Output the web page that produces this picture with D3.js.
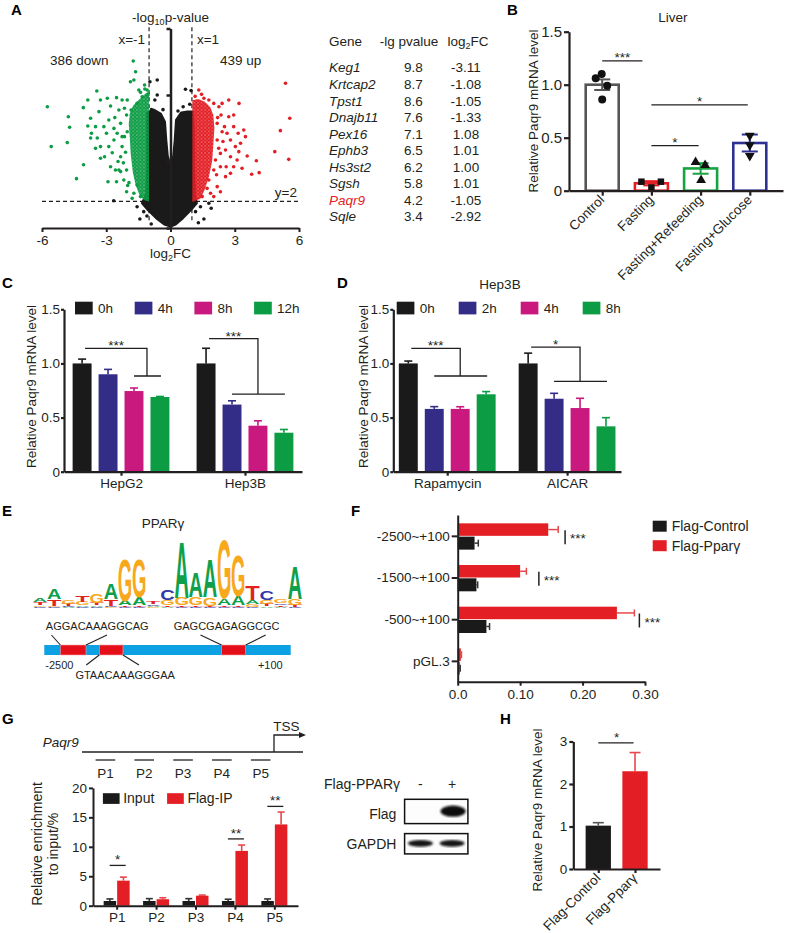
<!DOCTYPE html>
<html>
<head>
<meta charset="utf-8">
<script src="https://cdn.jsdelivr.net/npm/d3@7"></script>
<style>
  html, body { margin: 0; padding: 0; background: #fff; }
  svg { display: block; font-family: "Liberation Sans", Arial, Helvetica, sans-serif; }
</style>
</head>
<body>
<svg id="fig" width="789" height="933"></svg>
<script>
// ── Data ──────────────────────────────────────────────────────────────────────
// A: volcano, points as [log2FC, -log10 p]
const downPoints = [[-5.75,9.12],[-5.57,6.12],[-4.77,8.37],[-4.71,7.57],[-4.82,6.42],[-4.39,3.71],[-4.06,4.76],[-4.07,9.05],
  [-3.86,9.62],[-3.44,10.3],[-3.27,9.62],[-3.73,8.25],[-3.86,7.67],[-3.69,7.12],[-3.50,7.62],[-3.42,6.77],[-3.73,6.77],
  [-2.92,3.48],[-2.80,4.61],[-2.57,4.36],[-2.72,5.66],[-2.88,6.12],[-2.99,7.12],[-3.11,7.62],[-2.88,8.12],[-2.80,9.17],
  [-2.52,9.80],[-2.41,8.87],[-1.74,12.56],[-1.63,11.75],[-1.87,11.0],[-1.71,11.13],[-1.21,10.75],[-2.02,9.62],[-2.33,7.87],
  [-2.15,6.87],[-2.33,5.36],[-2.05,4.36],[-1.94,3.41],[-1.71,2.61],[-1.56,3.23],[-1.40,2.36],[-2.49,7.12],[-3.34,8.75],
  [-2.64,6.62],[-3.08,5.36],[-3.27,6.12],[-2.26,6.12],[-2.41,4.36],[-2.18,3.61],[-1.48,10.38],[-1.32,9.87],[-1.56,9.37],
  [-1.84,8.87],[-2.05,8.50],[-1.09,10.38],[-2.95,9.75],[-2.26,9.62],[-3.27,5.24],[-3.50,5.99],[-2.52,3.48],[-2.33,4.24],
  [-2.05,2.73],[-1.79,2.23],[-2.02,7.24],[-2.26,6.87],[-2.64,7.49],[-1.2,10.45],[-1.4,10.2],[-1.05,10.0],
  [-2.1,5.7],[-2.2,4.9],[-2.0,3.2],[-2.45,5.0],[-2.6,8.3],[-2.15,9.0]]
const upPoints = [[5.37,10.88],[5.57,8.25],[5.13,7.32],[4.87,5.74],[5.52,5.16],[4.01,5.06],[4.14,4.16],[3.79,4.04],
  [3.58,5.41],[3.50,6.87],[3.20,9.37],[3.16,7.12],[2.95,7.62],[2.72,8.37],[2.80,6.62],[2.57,5.86],[2.80,5.36],[2.33,4.61],
  [2.57,3.86],[2.18,3.11],[2.02,2.36],[1.32,10.38],[1.56,9.75],[1.79,9.62],[2.02,9.37],[2.26,9.12],[2.36,8.50],[2.18,7.87],
  [2.41,7.24],[2.18,6.62],[3.03,6.12],[3.11,5.11],[2.33,5.61],[2.10,5.11],[2.02,4.36],[1.79,3.61],[1.71,2.98],[1.48,2.36],
  [2.64,7.12],[3.42,7.37],[3.27,6.37],[1.87,2.61],[2.33,2.73],[2.80,4.11],[2.95,4.61],[3.19,5.74],[3.34,4.49],[2.52,7.62],
  [2.95,8.50],[2.72,9.62],[2.41,9.37],[1.15,9.9],[1.45,10.05],[2.25,6.0],[2.15,4.0],[2.45,6.5],[2.6,4.6],[2.2,8.3]]
const nsPoints = [[-0.62,11.13],[-0.96,11.0],[-0.62,10.0],[-0.73,9.62],[0.70,10.43],[0.96,10.33],[0.59,9.12],[0.81,8.62],
  [-0.89,8.9],[0.9,9.3],[-1.56,1.60],[-1.43,0.68],[-1.25,1.23],[1.40,1.60],[1.79,1.86],[1.90,1.48],[1.56,0.68],[-2.65,2.05],
  [1.17,1.23],[-1.1,0.9],[1.3,0.4],[-0.9,0.3],[-0.35,8.9],[0.35,8.8]]
// outlines of the dense, fully overplotted clouds
const nsCloud = [[-1.07,8.65],[-0.79,8.87],[-0.47,8.57],[-0.28,7.97],[-0.22,6.6],[-0.15,5.4],[0,4.6],[0.15,5.4],[0.22,6.6],
  [0.28,8.12],[0.51,8.65],[0.79,8.72],[1.03,8.72],[1.07,7.37],[1.07,4.36],[1.12,2.48],[1.21,1.88],[0.93,1.35],[0.56,0.75],
  [0.23,0.30],[0,0.15],[-0.28,0.30],[-0.65,0.75],[-1.03,1.35],[-1.31,1.88],[-1.12,2.48],[-1.07,4.36],[-1.07,7.37]]
const downCloud = [[-1.01,10.3],[-1.25,10.0],[-1.5,9.6],[-1.75,9.2],[-1.9,8.6],[-1.95,7.8],[-1.9,6.8],[-1.86,5.6],
  [-1.76,4.2],[-1.62,3.2],[-1.45,2.5],[-1.25,2.1],[-1.0,2.0]]
const upCloud = [[1.02,9.6],[1.3,9.7],[1.6,9.5],[1.85,9.1],[2.0,8.5],[2.05,7.5],[2.0,6.3],[1.95,5.1],[1.8,3.9],[1.6,2.9],
  [1.4,2.2],[1.02,1.95]]
const downCount = 386
const upCount = 439
const topGenes = ['Keg1','Krtcap2','Tpst1','Dnajb11','Pex16','Ephb3','Hs3st2','Sgsh','Paqr9','Sqle']
const topLgP = [9.8, 8.7, 8.6, 7.6, 7.1, 6.5, 6.2, 5.8, 4.2, 3.4]
const topLog2FC = [-3.11, -1.08, -1.05, -1.33, 1.08, 1.01, 1.00, 1.01, -1.05, -2.92]
const highlightGene = 'Paqr9'

// B: liver
const liverGroups = ['Control','Fasting','Fasting+Refeeding','Fasting+Glucose']
const liverMean = [1.0, 0.07, 0.21, 0.45]
const liverSem = [0.05, 0.02, 0.05, 0.08]
const liverPoints = [[1.06, 1.10, 0.99, 0.86], [0.085, 0.03, 0.085], [0.27, 0.24, 0.10], [0.52, 0.43, 0.33]]
const liverSig = [['Control','Fasting',1.225,'***'], ['Fasting','Fasting+Glucose',0.81,'*'], ['Fasting','Fasting+Refeeding',0.425,'*']]

// C: fasting-mimic time course
const cellLines = ['HepG2','Hep3B']
const fastTimes = ['0h','4h','8h','12h']
const fastMean = [[1.0, 0.90, 0.745, 0.69], [1.0, 0.62, 0.425, 0.36]]
const fastErr = [[0.04, 0.045, 0.028, 0.005], [0.14, 0.035, 0.045, 0.03]]
// [group, bars under the lower arm (first,last), top, lower, label]
const fastSig = [['HepG2', 2, 3, 1.14, 0.884, '***'], ['Hep3B', 1, 3, 1.23, 0.717, '***']]

// D: Hep3B drugs
const drugs = ['Rapamycin','AICAR']
const drugTimes = ['0h','2h','4h','8h']
const drugMean = [[1.0, 0.58, 0.58, 0.715], [1.0, 0.674, 0.588, 0.419]]
const drugErr = [[0.022, 0.021, 0.02, 0.025], [0.095, 0.05, 0.09, 0.08]]
const drugSig = [['Rapamycin', 1, 3, 1.14, 0.884, '***'], ['AICAR', 1, 3, 1.15, 0.835, '*']]

// E: PPARγ motif (bits, bottom to top) and promoter sites
const logoColumns = [
  [['C',0.04],['G',0.05],['T',0.08],['A',0.13]],
  [['C',0.03],['G',0.04],['T',0.20],['A',0.32]],
  [['A',0.03],['C',0.03],['T',0.07],['G',0.12]],
  [['C',0.03],['A',0.05],['G',0.10],['T',0.20]],
  [['C',0.03],['A',0.05],['T',0.08],['G',0.26]],
  [['G',0.04],['C',0.03],['T',0.20],['A',0.48]],
  [['C',0.03],['T',0.05],['A',0.14],['G',1.25]],
  [['C',0.03],['T',0.05],['A',0.25],['G',1.14]],
  [['G',0.03],['A',0.04],['C',0.04],['T',0.06]],
  [['A',0.04],['T',0.05],['G',0.15],['C',0.30]],
  [['C',0.03],['T',0.05],['G',0.22],['A',1.70]],
  [['C',0.03],['T',0.05],['G',0.25],['A',0.75]],
  [['C',0.03],['T',0.04],['G',0.25],['A',1.13]],
  [['C',0.03],['T',0.05],['A',0.20],['G',1.78]],
  [['C',0.03],['T',0.05],['A',0.27],['G',1.22]],
  [['C',0.04],['G',0.08],['A',0.13],['T',0.44]],
  [['A',0.05],['T',0.06],['G',0.12],['C',0.26]],
  [['A',0.04],['T',0.05],['C',0.05],['G',0.10]],
  [['C',0.03],['T',0.06],['G',0.18],['A',0.96]]
]
const siteSeqs = ['AGGACAAAGGCAG','GTAACAAAGGGAA','GAGCGAGAGGCGC']
const siteStart = [-2330, -1920, -630]
const siteEnd = [-2060, -1670, -375]

// F: luciferase
const constructs = ['-2500~+100','-1500~+100','-500~+100','pGL.3']
const lucControl = [0.027, 0.030, 0.046, 0.003]
const lucControlErr = [0.006, 0.002, 0.005, 0.001]
const lucPparg = [0.145, 0.100, 0.255, 0.005]
const lucPpargErr = [0.016, 0.010, 0.028, 0.001]
const lucSigX = [0.172, 0.130, 0.291]

// G: ChIP-qPCR
const primers = ['P1','P2','P3','P4','P5']
const chipInput = [0.8, 0.8, 0.8, 0.8, 0.8]
const chipInputErr = [0.35, 0.4, 0.4, 0.3, 0.35]
const chipIP = [4.25, 1.1, 1.7, 9.3, 13.8]
const chipIPErr = [0.6, 0.25, 0.1, 1.0, 2.1]
const chipSig = [['P1', 6.84, '*'], ['P4', 11.34, '**'], ['P5', 16.86, '**']]
const blotLanes = ['-', '+']
const flagBand = [0, 1]
const gapdhBand = [1, 1]

// H: overexpression
const ohGroups = ['Flag-Control','Flag-Pparγ']
const ohMean = [1.02, 2.3]
const ohErr = [0.07, 0.44]

// ── Setup ─────────────────────────────────────────────────────────────────────
const svg = d3.select('#fig')
svg.append('rect').attr('width', 789).attr('height', 933).attr('fill', '#fff')
const defs = svg.append('defs')
const INK = '#231f20'
const BLACK = '#1b1a1a', NAVY = '#332d88', MAGENTA = '#c9197f', GREEN = '#0c9c44', RED = '#e31e24'
const FS = 13.5

const text = (g, x, y, s, fs = FS) => g.append('text').attr('x', x).attr('y', y).attr('font-size', fs).attr('fill', INK).text(s)

function styleAxis(g, fs = FS, sw = 2) {
  g.attr('font-family', null).attr('font-size', fs)
  g.select('.domain').attr('stroke', INK).attr('stroke-width', sw)
  g.selectAll('.tick line').attr('stroke', INK).attr('stroke-width', sw)
  g.selectAll('.tick text').attr('fill', INK)
  return g
}
const fmt1 = d => d === 0 ? '0' : d.toFixed(1)

function line(g, x1, y1, x2, y2, color = INK, w = 1.4) {
  return g.append('line').attr('x1', x1).attr('y1', y1).attr('x2', x2).attr('y2', y2)
    .attr('stroke', color).attr('stroke-width', w)
}
function errUp(g, x, y0, y1, cap, color) {
  line(g, x, y0, x, y1, color, 1.6)
  line(g, x - cap / 2, y1, x + cap / 2, y1, color, 1.6)
}
function yLabel(g, x, y, s, fs = FS) {
  g.append('text').attr('transform', `translate(${x},${y}) rotate(-90)`).attr('text-anchor', 'middle')
    .attr('font-size', fs).attr('fill', INK).text(s)
}
function slantLabels(g, scale, y0, fs = FS) {
  g.selectAll(null).data(scale.domain()).join('text')
    .attr('transform', d => `translate(${scale(d) + 3},${y0 + 10}) rotate(-45)`)
    .attr('text-anchor', 'end').attr('font-size', fs).attr('fill', INK).text(d => d)
}
function panelLabel(s, x, y) {
  svg.append('text').attr('x', x).attr('y', y).attr('font-size', 15).attr('font-weight', 'bold').attr('fill', '#000').text(s)
}

// ── A: volcano + table ────────────────────────────────────────────────────────
{
  const g = svg.append('g')
  const x = d3.scaleLinear().domain([-6, 6]).range([42, 299])
  const y = d3.scaleLinear().domain([0, 15]).range([228, 28.5])

  // speckled fill for the overplotted coloured clouds
  ;[['dotsGreen', GREEN], ['dotsRed', RED]].forEach(([id, c]) => {
    const p = defs.append('pattern').attr('id', id).attr('patternUnits', 'userSpaceOnUse').attr('width', 3.6).attr('height', 3.6)
    p.append('circle').attr('cx', 1.8).attr('cy', 1.8).attr('r', 1.7).attr('fill', c)
    p.append('circle').attr('cx', 0).attr('cy', 0).attr('r', 1.2).attr('fill', c)
    p.append('circle').attr('cx', 3.6).attr('cy', 3.6).attr('r', 1.2).attr('fill', c)
    p.append('circle').attr('cx', 3.6).attr('cy', 0).attr('r', 1.2).attr('fill', c)
    p.append('circle').attr('cx', 0).attr('cy', 3.6).attr('r', 1.2).attr('fill', c)
  })

  line(g, x(-6), y(2), x(6), y(2), INK, 1.2).attr('stroke-dasharray', '4,3')
  ;[-1, 1].forEach(v => line(g, x(v), y(15.1), x(v), y(0.5), INK, 1.2).attr('stroke-dasharray', '4,3'))

  const cloud = d3.line().x(d => x(d[0])).y(d => y(d[1])).curve(d3.curveLinearClosed)
  g.append('path').attr('d', cloud(nsCloud)).attr('fill', BLACK).attr('stroke', BLACK)
    .attr('stroke-width', 3).attr('stroke-linejoin', 'round')
  ;[[downCloud, 'url(#dotsGreen)'], [upCloud, 'url(#dotsRed)']].forEach(([pts, f]) => {
    g.append('path').attr('d', cloud(pts)).attr('fill', f)
  })
  ;[[nsPoints, BLACK], [downPoints, GREEN], [upPoints, RED]].forEach(([pts, c]) => {
    g.selectAll(null).data(pts).join('circle')
      .attr('cx', d => x(d[0])).attr('cy', d => y(d[1])).attr('r', 1.8).attr('fill', c)
  })

  styleAxis(g.append('g').attr('transform', `translate(${x(0)},0)`)
    .call(d3.axisLeft(y).tickValues([0, 5, 10, 15]).tickSize(4).tickSizeOuter(0).tickFormat('')), FS, 2.5)
  styleAxis(g.append('g').attr('transform', `translate(0,${y(0)})`)
    .call(d3.axisBottom(x).tickValues([-6, -3, 0, 3, 6]).tickSize(4).tickSizeOuter(0).tickPadding(3).tickFormat(d => String(d))), FS, 2)

  const t1 = g.append('text').attr('x', x(0)).attr('y', 22).attr('text-anchor', 'middle').attr('font-size', FS).attr('fill', INK)
  t1.append('tspan').text('-log')
  t1.append('tspan').attr('font-size', 9).attr('dy', 3).text('10')
  t1.append('tspan').attr('dy', -3).text('p-value')
  const t2 = g.append('text').attr('x', x(0)).attr('y', 258).attr('text-anchor', 'middle').attr('font-size', FS).attr('fill', INK)
  t2.append('tspan').text('log')
  t2.append('tspan').attr('font-size', 9).attr('dy', 3).text('2')
  t2.append('tspan').attr('dy', -3).text('FC')

  text(g, x(-1) - 4, 43.5, 'x=-1').attr('text-anchor', 'end')
  text(g, x(1) + 5, 43.5, 'x=1')
  text(g, 50, 65, `${downCount} down`)
  text(g, 220, 65, `${upCount} up`)
  text(g, x(6) - 2, y(2) - 4, 'y=2').attr('text-anchor', 'end')

  // table of top genes
  const rows = d3.scaleBand().domain(topGenes).range([59.4, 59.4 + 16.54 * topGenes.length])
  const base = d => rows(d) + rows.bandwidth() / 2 + 4.8
  text(g, 329, 45.5, 'Gene')
  text(g, 409, 45.5, '-lg pvalue').attr('text-anchor', 'middle')
  const h3 = text(g, 468, 45.5, 'log').attr('text-anchor', 'middle')
  h3.append('tspan').attr('font-size', 9).attr('dy', 3).text('2')
  h3.append('tspan').attr('dy', -3).text('FC')
  topGenes.forEach((gene, i) => {
    text(g, 329, base(gene), gene).attr('font-style', 'italic').attr('fill', gene === highlightGene ? RED : INK)
    text(g, 413.5, base(gene), topLgP[i].toFixed(1)).attr('text-anchor', 'middle')
    text(g, 466, base(gene), topLog2FC[i].toFixed(2)).attr('text-anchor', 'middle')
  })
}

// ── B: liver ──────────────────────────────────────────────────────────────────
{
  const g = svg.append('g')
  const x = d3.scalePoint().domain(liverGroups).range([569, 783]).padding(0.675)
  const y = d3.scaleLinear().domain([0, 1.5]).range([190.7, 31.7])
  const colors = ['#555555', RED, '#16a340', '#2e3192']
  const shapes = [d3.symbolCircle, d3.symbolSquare, d3.symbolTriangle, d3.symbolTriangle]
  const jitter = [[-6.5, -0.5, 5, 0], [-10, 0, 9.5], [-5, 4.5, 0.5], [0, 0, 0]]
  const bw = 33

  liverGroups.forEach((grp, i) => {
    const cx = x(grp), c = colors[i]
    g.append('rect').attr('x', cx - bw / 2).attr('y', y(liverMean[i])).attr('width', bw)
      .attr('height', y(0) - y(liverMean[i])).attr('fill', '#fff').attr('stroke', c).attr('stroke-width', 2.6)
    line(g, cx, y(liverMean[i] - liverSem[i]), cx, y(liverMean[i] + liverSem[i]), c, 2)
    ;[liverMean[i] - liverSem[i], liverMean[i] + liverSem[i]].forEach(v => line(g, cx - 8, y(v), cx + 8, y(v), c, 2))
    liverPoints[i].forEach((v, j) => {
      const rot = i === 3 ? 180 : 0
      g.append('path').attr('d', d3.symbol(shapes[i], i === 0 ? 50 : 42)())
        .attr('transform', `translate(${cx + jitter[i][j]},${y(v)}) rotate(${rot})`).attr('fill', '#111')
    })
  })

  styleAxis(g.append('g').attr('transform', `translate(${x.range()[0]},0)`)
    .call(d3.axisLeft(y).tickValues([0, 0.5, 1, 1.5]).tickSize(5).tickSizeOuter(0).tickPadding(2).tickFormat(fmt1)), 15, 2.2)
  styleAxis(g.append('g').attr('transform', `translate(0,${y(0)})`)
    .call(d3.axisBottom(x).tickSize(5).tickSizeOuter(0).tickFormat('')), FS, 2.2)
  slantLabels(g, x, y(0))
  yLabel(g, 537.5, 111, 'Relative Paqr9 mRNA level')
  text(g, 673, 22, 'Liver').attr('text-anchor', 'middle')

  liverSig.forEach(([a, b, v, lab]) => {
    const x1 = x(a), x2 = a === 'Control' ? x(b) - 9 : x(b) - 2
    line(g, x1, y(v), x2, y(v), INK, 1.3)
    text(g, (x1 + x2) / 2, y(v) + 1, lab).attr('text-anchor', 'middle')
  })
}

// ── C & D: grouped bars ───────────────────────────────────────────────────────
const timeColors = [BLACK, NAVY, MAGENTA, GREEN]
function groupedBars({ groups, times, mean, err, sig, xRange, pad, legendX, legendStep, labelX }) {
  const g = svg.append('g')
  const x = d3.scalePoint().domain(groups).range(xRange).padding(pad)
  const y = d3.scaleLinear().domain([0, 1.5]).range([471.7, 309.3])
  const inner = d3.scaleBand().domain(times).range([-48.4, 48.4]).paddingInner(0.27)
  const bw = inner.bandwidth()
  const barX = (grp, k) => x(grp) + inner(times[k]) + bw / 2

  groups.forEach((grp, i) => {
    times.forEach((t, k) => {
      const cx = barX(grp, k)
      g.append('rect').attr('x', cx - bw / 2).attr('y', y(mean[i][k])).attr('width', bw)
        .attr('height', y(0) - y(mean[i][k])).attr('fill', timeColors[k])
      errUp(g, cx, y(mean[i][k]), y(mean[i][k] + err[i][k]), 8, timeColors[k])
    })
  })
  sig.forEach(([grp, k1, k2, top, low, lab]) => {
    const xs = barX(grp, 0) + 3, xm = (barX(grp, k1) + barX(grp, k2)) / 2
    const xl = barX(grp, k1), xr = barX(grp, k2) + 1
    g.append('path').attr('d', `M${xs},${y(top)}H${xm}V${y(low)}M${xl},${y(low)}H${xr}`)
      .attr('fill', 'none').attr('stroke', INK).attr('stroke-width', 1.3)
    text(g, (xs + xm) / 2, y(top) + 2, lab).attr('text-anchor', 'middle')
  })

  styleAxis(g.append('g').attr('transform', `translate(${xRange[0]},0)`)
    .call(d3.axisLeft(y).tickValues([0, 0.5, 1, 1.5]).tickSize(3).tickSizeOuter(0).tickPadding(1).tickFormat(fmt1)), FS, 2.2)
  styleAxis(g.append('g').attr('transform', `translate(0,${y(0)})`)
    .call(d3.axisBottom(x).tickSize(4).tickSizeOuter(0).tickPadding(3)), FS, 2.2)
  yLabel(g, labelX, 386.5, 'Relative Paqr9 mRNA level')

  times.forEach((t, k) => {
    const lx = legendX + k * legendStep
    g.append('rect').attr('x', lx).attr('y', 301.7).attr('width', 17.7).attr('height', 12.7).attr('fill', timeColors[k])
    text(g, lx + 23, 312.8, t)
  })
  return g
}
groupedBars({ groups: cellLines, times: fastTimes, mean: fastMean, err: fastErr, sig: fastSig,
  xRange: [64, 302], pad: 0.46, legendX: 75, legendStep: 59.7, labelX: 36 })
const gD = groupedBars({ groups: drugs, times: drugTimes, mean: drugMean, err: drugErr, sig: drugSig,
  xRange: [393.3, 621], pad: 0.45, legendX: 396.7, legendStep: 62, labelX: 367.5 })
text(gD, 500, 289, 'Hep3B').attr('text-anchor', 'middle')

// ── E: motif logo + promoter map ──────────────────────────────────────────────
{
  const g = svg.append('g')
  const baseColor = { A: '#0fa04b', C: '#3238a8', G: '#f7a81b', T: '#e2231c' }
  const lx = d3.scaleBand().domain(d3.range(logoColumns.length)).range([33, 302])
  const ly = d3.scaleLinear().domain([0, 2]).range([608, 540])
  logoColumns.forEach((col, i) => {
    let acc = 0
    col.forEach(([b, bits]) => {
      const t = g.append('text').text(b).attr('font-size', 100).attr('font-weight', 'bold')
        .attr('text-anchor', 'middle').attr('fill', baseColor[b])
      const w = t.node().getComputedTextLength()
      const h = ly(acc) - ly(acc + bits)
      const sx = lx.bandwidth() * 1.02 / w, sy = h / 72
      t.attr('transform', `translate(${lx(i) + lx.bandwidth() / 2},${ly(acc)}) scale(${sx},${sy})`)
      acc += bits
    })
  })
  text(g, 163, 528, 'PPARγ').attr('text-anchor', 'middle')

  const px = d3.scaleLinear().domain([-2500, 100]).range([44.3, 290.7])
  g.append('rect').attr('x', px(-2500)).attr('y', 645).attr('width', px(100) - px(-2500)).attr('height', 10).attr('fill', '#0ba1e2')
  const labelDx = [24, 14, -7], leftDx = [-9, -13, -21], rightDx = [21, 16, 20], below = [false, true, false]
  siteSeqs.forEach((seq, i) => {
    const x0 = px(siteStart[i]), x1 = px(siteEnd[i])
    g.append('rect').attr('x', x0).attr('y', 645).attr('width', x1 - x0).attr('height', 10)
      .attr('fill', '#e50f1a').attr('stroke', '#f3a3a6').attr('stroke-width', 0.6)
    const yb = below[i] ? 655 : 645, yl = below[i] ? 665 : 635
    line(g, x0 + leftDx[i], yl, x0, yb, INK, 1.1)
    line(g, x1 + rightDx[i], yl, x1, yb, INK, 1.1)
    text(g, (x0 + x1) / 2 + labelDx[i], below[i] ? 679 : 630, seq, 11).attr('text-anchor', 'middle')
  })
  text(g, px(-2500) + 1, 669, '-2500', 11)
  text(g, px(100) - 8, 669, '+100', 11).attr('text-anchor', 'end')
}

// ── F: luciferase ─────────────────────────────────────────────────────────────
{
  const g = svg.append('g')
  const x = d3.scaleLinear().domain([0, 0.3]).range([457.7, 645])
  const y = d3.scalePoint().domain(constructs).range([515, 681.7]).padding(0.5)
  constructs.forEach((c, i) => {
    const cy = y(c)
    g.append('rect').attr('x', x(0)).attr('y', cy - 12.5).attr('width', x(lucPparg[i]) - x(0)).attr('height', 12.5).attr('fill', RED)
    g.append('rect').attr('x', x(0)).attr('y', cy + 0.8).attr('width', x(lucControl[i]) - x(0)).attr('height', 13).attr('fill', BLACK)
    const e1 = cy - 6.25, e2 = cy + 7.3
    line(g, x(lucPparg[i]), e1, x(lucPparg[i] + lucPpargErr[i]), e1, '#e8474b', 1.5)
    line(g, x(lucPparg[i] + lucPpargErr[i]), e1 - 3.5, x(lucPparg[i] + lucPpargErr[i]), e1 + 3.5, '#e8474b', 1.5)
    line(g, x(lucControl[i]), e2, x(lucControl[i] + lucControlErr[i]), e2, '#333', 1.5)
    line(g, x(lucControl[i] + lucControlErr[i]), e2 - 3.5, x(lucControl[i] + lucControlErr[i]), e2 + 3.5, '#333', 1.5)
    if (i < lucSigX.length) {
      line(g, x(lucSigX[i]), cy - 5.7, x(lucSigX[i]), cy + 8.3, INK, 1.5)
      text(g, x(lucSigX[i]) + 5, cy + 7.5, '***')
    }
  })
  styleAxis(g.append('g').attr('transform', `translate(${x(0)},0)`)
    .call(d3.axisLeft(y).tickSize(6).tickSizeOuter(0).tickPadding(2)), FS, 2)
  styleAxis(g.append('g').attr('transform', `translate(0,${y.range()[1]})`)
    .call(d3.axisBottom(x).tickValues([0, 0.1, 0.2, 0.3]).tickSize(4).tickSizeOuter(0).tickPadding(4)
      .tickFormat(d => d === 0 ? '0.0' : d.toFixed(2))), FS, 2)
  ;[['Flag-Control', BLACK], ['Flag-Pparγ', RED]].forEach(([s, c], k) => {
    g.append('rect').attr('x', 652.7).attr('y', 520.7 + k * 19.5).attr('width', 14).attr('height', 11).attr('fill', c)
    text(g, 671.7, 531 + k * 19.5, s, 14)
  })
}

// ── G: ChIP-qPCR + blot ───────────────────────────────────────────────────────
{
  const g = svg.append('g')
  // gene schematic
  text(g, 42.7, 746.5, 'Paqr9').attr('font-style', 'italic')
  line(g, 82, 752, 303, 752, INK, 1.3)
  g.append('path').attr('d', 'M274,752V735H300').attr('fill', 'none').attr('stroke', INK).attr('stroke-width', 1.3)
  g.append('path').attr('d', 'M306,735L299,732V738Z').attr('fill', INK)
  text(g, 286.5, 731, 'TSS').attr('text-anchor', 'middle')
  const gp = d3.scalePoint().domain(primers).range([105.4, 260.7])
  primers.forEach(p => {
    line(g, gp(p) - 9.8, 760, gp(p) + 9.8, 760, INK, 1.3)
    text(g, gp(p), 777.5, p).attr('text-anchor', 'middle')
  })

  const x = d3.scalePoint().domain(primers).range([93, 298]).padding(0.6)
  const y = d3.scaleLinear().domain([0, 20]).range([905.7, 787.9])
  const bw = 12.5
  primers.forEach((p, i) => {
    const xi = x(p) - bw - 0.5, xr = x(p) + 0.5
    g.append('rect').attr('x', xi).attr('y', y(chipInput[i])).attr('width', bw).attr('height', y(0) - y(chipInput[i])).attr('fill', BLACK)
    errUp(g, xi + bw / 2, y(chipInput[i]), y(chipInput[i] + chipInputErr[i]), 7, '#333')
    g.append('rect').attr('x', xr).attr('y', y(chipIP[i])).attr('width', bw).attr('height', y(0) - y(chipIP[i])).attr('fill', RED)
    errUp(g, xr + bw / 2, y(chipIP[i]), y(chipIP[i] + chipIPErr[i]), 7, '#e8474b')
  })
  chipSig.forEach(([p, v, lab]) => {
    line(g, x(p) - 7, y(v), x(p) + 9, y(v), INK, 1.3)
    text(g, x(p) + 1, y(v) - 1, lab).attr('text-anchor', 'middle')
  })
  styleAxis(g.append('g').attr('transform', `translate(${x.range()[0]},0)`)
    .call(d3.axisLeft(y).tickValues([0, 5, 10, 15, 20]).tickSize(4).tickSizeOuter(0).tickPadding(2).tickFormat(d3.format('d'))), FS, 2)
  styleAxis(g.append('g').attr('transform', `translate(0,${y(0)})`)
    .call(d3.axisBottom(x).tickSize(4).tickSizeOuter(0).tickPadding(3)), FS, 2)
  yLabel(g, 42, 844, 'Relative enrichment', 14)
  yLabel(g, 57.5, 844, 'to input/%', 14)
  ;[['Input', BLACK, 102.9], ['Flag-IP', RED, 167.1]].forEach(([s, c, lx]) => {
    g.append('rect').attr('x', lx).attr('y', 793.2).attr('width', 16.7).attr('height', 10.7).attr('fill', c)
    text(g, lx + 20.3, 803, s, 14)
  })

  // western blot
  defs.append('filter').attr('id', 'blur').append('feGaussianBlur').attr('stdDeviation', 0.9)
  const lane = d3.scalePoint().domain(blotLanes).range([404.6, 467.9]).padding(0.5)
  text(g, 400, 788.5, 'Flag-PPARγ', 14).attr('text-anchor', 'end')
  blotLanes.forEach(l => text(g, lane(l), 788.5, l, 14).attr('text-anchor', 'middle'))
  g.append('rect').attr('x', 404.6).attr('y', 799.3).attr('width', 63.3).attr('height', 24.3).attr('fill', '#fdfdfd').attr('stroke', '#111').attr('stroke-width', 1.5)
  g.append('rect').attr('x', 404.6).attr('y', 833.6).attr('width', 63.3).attr('height', 20.3).attr('fill', '#fdfdfd').attr('stroke', '#111').attr('stroke-width', 1.5)
  blotLanes.forEach((l, i) => {
    g.append('ellipse').attr('cx', lane(l) + 1).attr('cy', 811.2).attr('rx', 12.5).attr('ry', 5.6)
      .attr('fill', '#0d0d0d').attr('opacity', flagBand[i]).attr('filter', 'url(#blur)')
    g.append('ellipse').attr('cx', lane(l)).attr('cy', 843.3).attr('rx', 12.5).attr('ry', 3.4)
      .attr('fill', '#151515').attr('opacity', gapdhBand[i]).attr('filter', 'url(#blur)')
  })
  text(g, 396.4, 818.7, 'Flag', 14).attr('text-anchor', 'end')
  text(g, 396.4, 849.2, 'GAPDH', 14).attr('text-anchor', 'end')
}

// ── H: overexpression ────────────────────────────────────────────────────────
{
  const g = svg.append('g')
  const x = d3.scalePoint().domain(ohGroups).range([573.3, 660]).padding(0.68)
  const y = d3.scaleLinear().domain([0, 3]).range([869, 741.5])
  const colors = [BLACK, RED], errColors = ['#555', '#e8474b'], bw = 25.3
  ohGroups.forEach((grp, i) => {
    g.append('rect').attr('x', x(grp) - bw / 2).attr('y', y(ohMean[i])).attr('width', bw)
      .attr('height', y(0) - y(ohMean[i])).attr('fill', colors[i])
    errUp(g, x(grp), y(ohMean[i]), y(ohMean[i] + ohErr[i]), 11, errColors[i])
  })
  line(g, x(ohGroups[0]), y(2.97), x(ohGroups[1]) - 1.5, y(2.97), INK, 1.3)
  text(g, (x(ohGroups[0]) + x(ohGroups[1])) / 2, y(2.97) - 1, '*').attr('text-anchor', 'middle')
  styleAxis(g.append('g').attr('transform', `translate(${x.range()[0]},0)`)
    .call(d3.axisLeft(y).tickValues([0, 1, 2, 3]).tickSize(4).tickSizeOuter(0).tickPadding(2).tickFormat(d3.format('d'))), FS, 2.2)
  styleAxis(g.append('g').attr('transform', `translate(0,${y(0)})`)
    .call(d3.axisBottom(x).tickSize(4).tickSizeOuter(0).tickFormat('')), FS, 2.2)
  slantLabels(g, x, y(0))
  yLabel(g, 542, 810, 'Relative Paqr9 mRNA level')
}

// ── Panel letters ─────────────────────────────────────────────────────────────
;[['A', 11, 15], ['B', 507, 15], ['C', 2, 288], ['D', 337, 288], ['E', 2, 516], ['F', 351, 516], ['G', 2, 724], ['H', 500, 724]]
  .forEach(([s, x, y]) => panelLabel(s, x, y))
</script>
</body>
</html>
